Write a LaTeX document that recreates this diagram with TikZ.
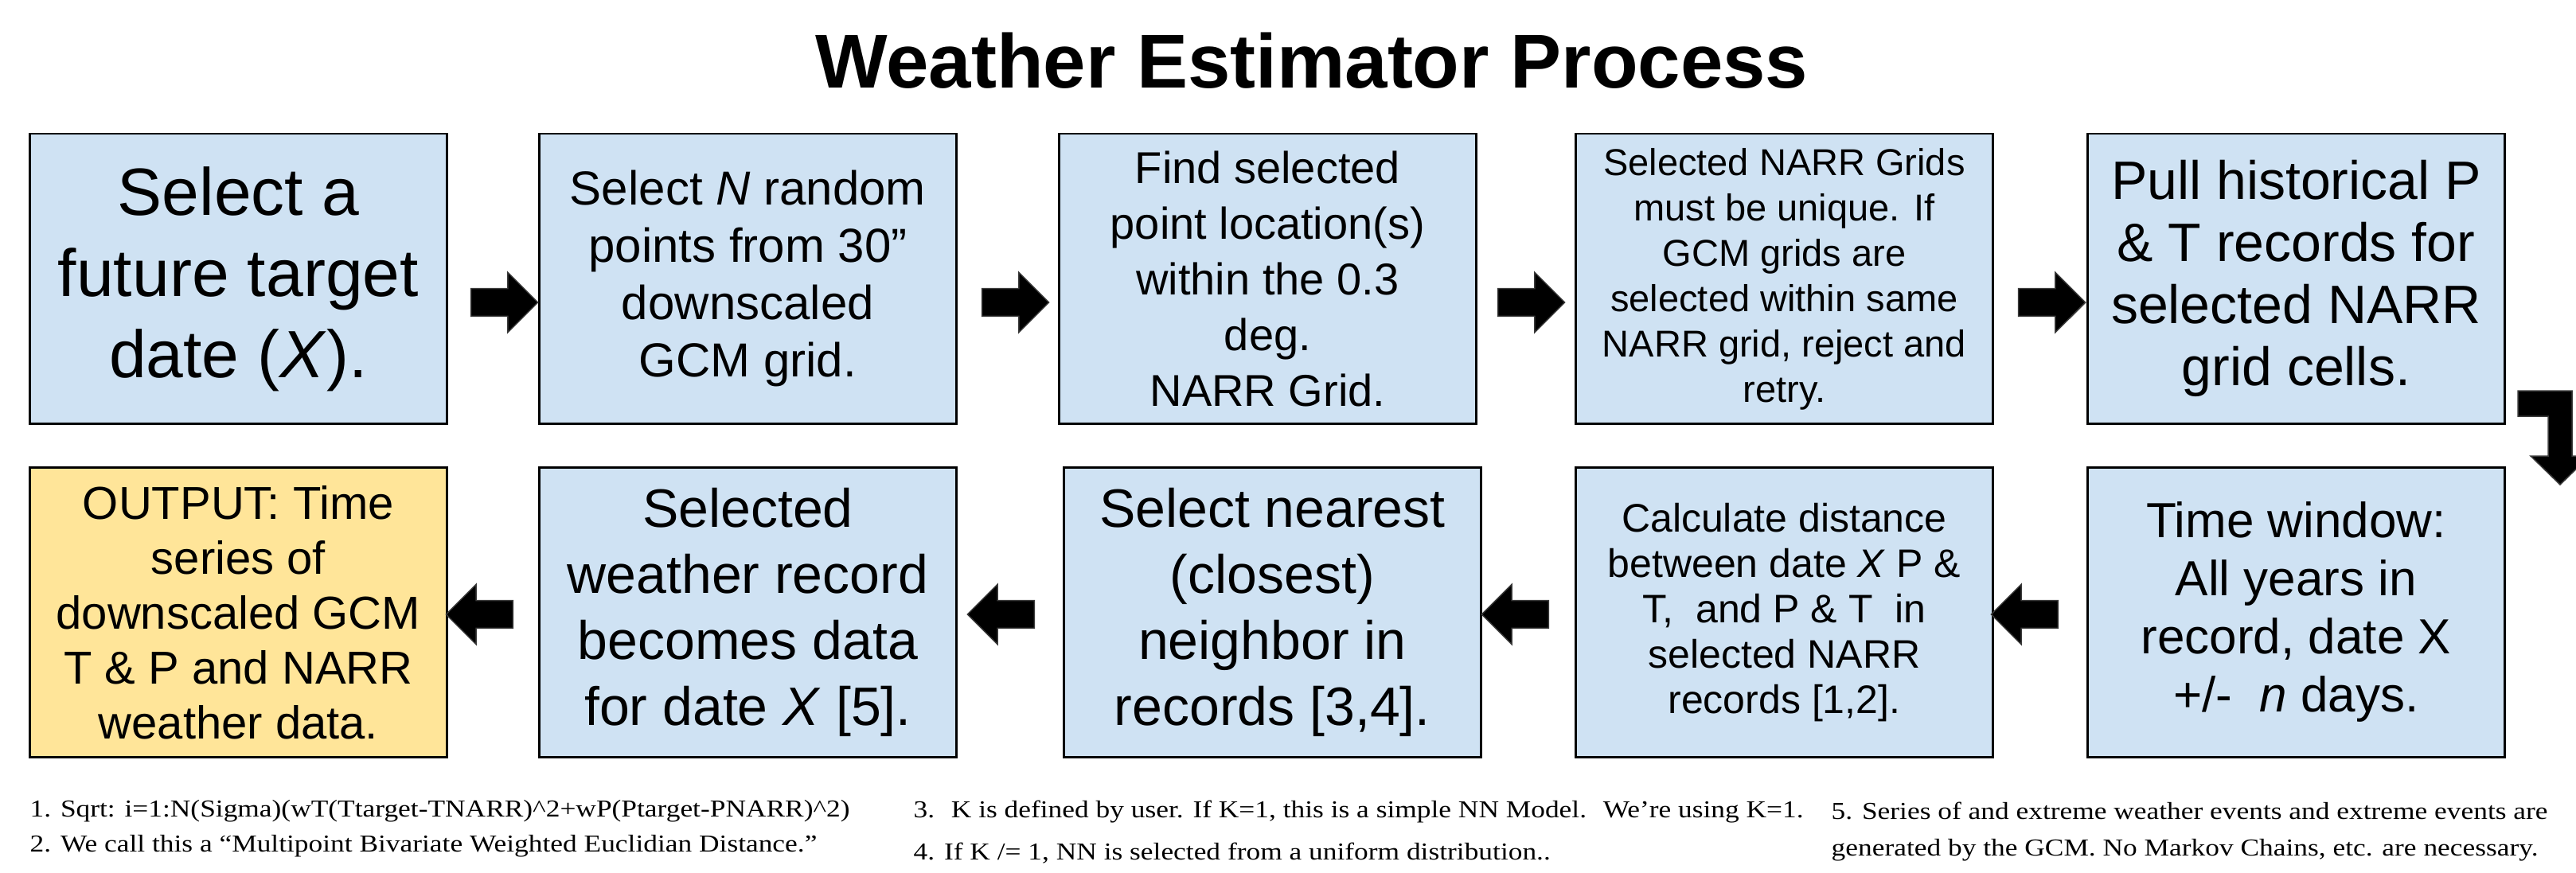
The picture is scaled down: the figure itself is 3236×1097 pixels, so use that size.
\documentclass[tikz,border=0pt]{standalone}
\usepackage{fontspec}
\setmainfont{Liberation Sans}
\newfontfamily\notefont[FakeStretch=1.16]{Liberation Serif}
\usetikzlibrary{shapes.arrows}
% one drawing unit = 0.01cm
\newdimen\pxu \pxu=0.01cm
\definecolor{stepblue}{HTML}{CFE2F3}
\definecolor{outyellow}{HTML}{FFE599}
\definecolor{arrowedge}{HTML}{3A3A3A}
\tikzset{
  stepbox/.style={rectangle, draw=black, line width=0.025cm, fill=stepblue,
    inner sep=0pt, minimum width=5.24cm, minimum height=3.64cm,
    align=center, anchor=north west},
  outbox/.style={stepbox, fill=outyellow},
  fs/.style 2 args={font=\fontsize{#1\pxu}{#2\pxu}\selectfont},
  blockarrow/.style={single arrow, fill=black, draw=arrowedge, line width=0.015cm,
    inner xsep=0pt, inner ysep=0.165cm, minimum height=0.84cm, minimum width=0.74cm,
    single arrow head extend=0.205cm, anchor=center},
  leftarrow/.style={blockarrow, shape border rotate=180},
  note/.style={anchor=base west, inner sep=0pt,
    font=\notefont\fontsize{30.5\pxu}{40\pxu}\selectfont}
}
\begin{document}
\begin{tikzpicture}[x=0.01cm, y=-0.01cm]
\clip (0,0) rectangle (3236,1097);
\fill[white] (0,0) rectangle (3236,1097);

% title
\node[anchor=base, inner sep=0pt, font=\bfseries\fontsize{96\pxu}{110\pxu}\selectfont]
  (title) at (1648,111) {Weather Estimator Process};

% first row of steps
\node[stepbox, fs={84}{102}] (b1) at (36,167) {Select a\\future target\\date (\textit{X}).};
\node[stepbox, fs={60}{72}] (b2) at (676,167) {Select \textit{N} random\\points from 30”\\downscaled\\GCM grid.};
\node[stepbox, fs={56}{70}] (b3) at (1329,167) {Find selected\\point location(s)\\within the 0.3\\deg.\\NARR Grid.};
\node[stepbox, fs={47}{57}] (b4) at (1978,167) {Selected NARR Grids\\must be unique. If\\GCM grids are\\selected within same\\NARR grid, reject and\\retry.};
\node[stepbox, fs={68}{78}] (b5) at (2621,167) {Pull historical P\\\& T records for\\selected NARR\\grid cells.};

% second row of steps
\node[outbox, fs={58}{69}] (b6) at (36,586) {OUTPUT: Time\\series of\\downscaled GCM\\T \& P and NARR\\weather data.};
\node[stepbox, fs={68}{83}] (b7) at (676,586) {Selected\\weather record\\becomes data\\for date \textit{X} [5].};
\node[stepbox, fs={68}{83}] (b8) at (1335,586) {Select nearest\\(closest)\\neighbor in\\records [3,4].};
\node[stepbox, fs={50}{57}] (b9) at (1978,586) {Calculate distance\\between date \textit{X} P \&\\T,~ and P \& T~ in\\selected NARR\\records [1,2].};
\node[stepbox, fs={62}{73}] (b10) at (2621,586) {Time window:\\All years in\\record, date X\\+/-~ \textit{n} days.};

% block arrows, first row (left to right)
\node[blockarrow] (a1) at (625,380) {};
\node[blockarrow] (a2) at (1267,380) {};
\node[blockarrow] (a3) at (1915,380) {};
\node[blockarrow] (a4) at (2569,380) {};

% bent arrow from the first row down to the second
\filldraw[fill=black, draw=arrowedge, line width=0.015cm]
  (3163,491) -- (3231,491) -- (3231,573) -- (3253,573) -- (3216,609)
  -- (3179,573) -- (3201,573) -- (3201,523) -- (3163,523) -- cycle;

% block arrows, second row (right to left)
\node[leftarrow] (a9) at (2552,772) {};
\node[leftarrow] (a8) at (1912,772) {};
\node[leftarrow] (a7) at (1266,772) {};
\node[leftarrow] (a6) at (611,772) {};

% footnotes
\node[note] (n1) at (37,1026) {1. Sqrt: i=1:N(Sigma)(wT(Ttarget-TNARR)\textasciicircum 2+wP(Ptarget-PNARR)\textasciicircum 2)};
\node[note] (n2) at (37,1070) {2. We call this a “Multipoint Bivariate Weighted Euclidian Distance.”};
\node[note] (n3) at (1147,1027) {3.~ K is defined by user. If K=1, this is a simple NN Model.~ We’re using K=1.};
\node[note] (n4) at (1147,1080) {4. If K /= 1, NN is selected from a uniform distribution..};
\node[note] (n5) at (2300,1029) {5. Series of and extreme weather events and extreme events are};
\node[note] (n6) at (2300,1075) {generated by the GCM. No Markov Chains, etc. are necessary.};
\end{tikzpicture}
\end{document}
